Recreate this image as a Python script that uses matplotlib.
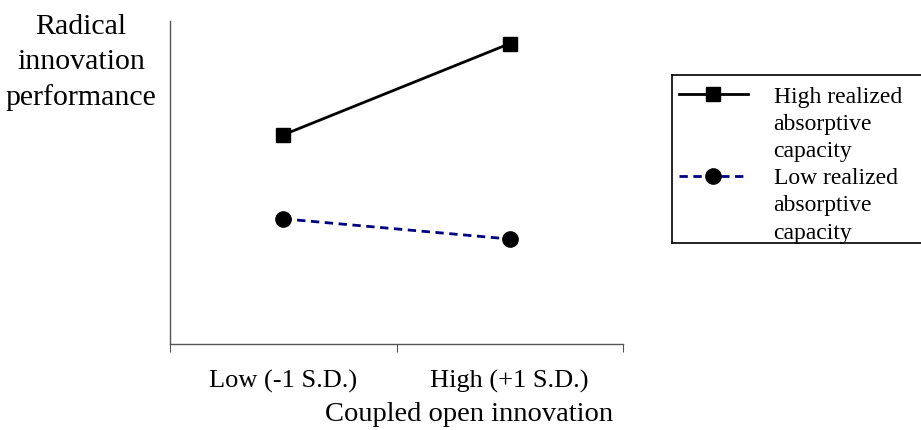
import matplotlib.pyplot as plt
from matplotlib.lines import Line2D

# interaction plot: radical innovation vs coupled open innovation
categories = ['Low (-1 S.D.)', 'High (+1 S.D.)']
x_pos = [0.5, 1.5]
high_rac = [2.59, 3.72]
low_rac = [1.55, 1.30]
high_label = ['High realized', 'absorptive', 'capacity']
low_label = ['Low realized', 'absorptive', 'capacity']

plt.rcParams['font.family'] = ['Liberation Serif', 'DejaVu Serif']

fig = plt.figure(figsize=(9.21, 4.30), dpi=100)
ax = fig.add_axes([170/921, 1-344/430, (623-170)/921, (344-21)/430])

ax.plot(x_pos, high_rac, color='black', lw=2, marker='s', ms=10.5,
        markerfacecolor='black', markeredgecolor='black')
ax.plot(x_pos, low_rac, color='#000080', lw=2, ls=(0, (3, 2)), marker='o', ms=11,
        markerfacecolor='black', markeredgecolor='black')

ax.set_xlim(0, 2)
ax.set_ylim(0, 4)
for s in ['top', 'right']:
    ax.spines[s].set_visible(False)
for s in ['left', 'bottom']:
    ax.spines[s].set_color('#555555')
    ax.spines[s].set_linewidth(1)
ax.set_yticks([])
ax.set_xticks([0, 1, 2])
ax.set_xticklabels([])
ax.tick_params(axis='x', which='major', direction='out', length=6, color='#555555')
ax.set_xticks(x_pos, minor=True)
ax.set_xticklabels(categories, minor=True, fontsize=19)
ax.tick_params(axis='x', which='minor', length=0, pad=19)
ax.set_xlabel('Coupled open innovation', fontsize=20.5, x=0.66, labelpad=6)

fig.text(81/921, 1-14/430, 'Radical\ninnovation\nperformance', ha='center', va='top',
         fontsize=21.5, linespacing=1.45)

# legend: one row per text line, handle only on the first line
blank = Line2D([], [], linestyle='none')
h_high = Line2D([], [], color='black', lw=2, marker='s', ms=10.5)
h_low = Line2D([], [], color='#000080', lw=2, ls=(0, (3, 2)), marker='o', ms=11,
               markerfacecolor='black', markeredgecolor='black')
handles = [h_high, blank, blank, h_low, blank, blank]
labels = high_label + low_label
leg = fig.legend(handles, labels, loc='upper left',
                 bbox_to_anchor=(672/921, 1-79/430),
                 fontsize=17, frameon=False, labelspacing=0.24,
                 handlelength=2.9, handletextpad=1.1, borderpad=0.3,
                 borderaxespad=0)

# legend box runs off the right edge of the figure (open on the right)
bx0, btop, bbot = 672/921, 1-75/430, 1-243/430
for xs, ys in [([bx0, 1.05], [btop, btop]),
               ([bx0, bx0], [btop, bbot]),
               ([bx0, 1.05], [bbot, bbot])]:
    fig.add_artist(Line2D(xs, ys, transform=fig.transFigure, color='black',
                          lw=1.2, solid_capstyle='projecting'))

fig.savefig('out.png', dpi=100)
